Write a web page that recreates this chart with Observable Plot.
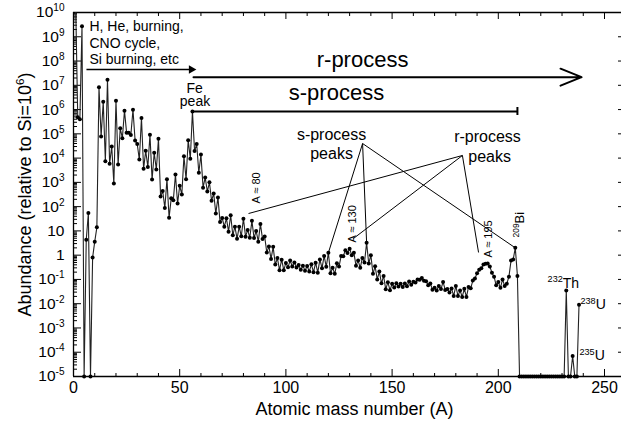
<!DOCTYPE html>
<html>
<head>
<meta charset="utf-8">
<script src="https://cdn.jsdelivr.net/npm/d3@7"></script>
<script src="https://cdn.jsdelivr.net/npm/@observablehq/plot@0.6"></script>
<style>
  html, body { margin: 0; padding: 0; background: #fff; }
  #chart { width: 621px; height: 422px; overflow: hidden; }
</style>
</head>
<body>
<div id="chart"></div>
<script>
// Solar-system abundance (relative to Si = 1e6) for mass numbers A = 1, 2, 3, ... 238
// values at 1e-5 are the plotted "zero" floor
const abundance = [
  2.79e10, 4.8e5, 4.0e5, 2.7e9, 1e-5, 4.3, 55, 1e-5, 0.8, 3.6,          // 1-10
  14, 8.3e6, 7.8e4, 2.1e6, 7.4e3, 1.7e7, 5.9e3, 3.0e4, 890, 2.3e6,      // 11-20
  5.4e3, 1.7e5, 6.6e4, 9.0e5, 1.1e5, 1.1e5, 9.0e4, 9.8e5, 5.3e4, 3.8e4, // 21-30
  8.7e3, 4.5e5, 3.6e3, 2.0e4, 4.3e3, 9.2e4, 1.3e3, 1.66e4, 3.4e3, 6.2e4, // 31-40
  260, 440, 88, 1.33e3, 35, 220, 185, 2.1e3, 135, 720,                  // 41-50
  320, 1.18e4, 1.35e3, 5.4e4, 9.5e3, 8.4e5, 1.95e4, 3.8e4, 2.5e3, 1.4e4, // 51-60
  600, 1.6e3, 420, 1.0e3, 175, 350, 52, 240, 23, 34,                    // 61-70
  15, 33, 9.3, 44, 6.6, 15, 4.7, 15, 6.0, 32,                           // 71-80
  5.8, 11, 5.2, 26, 5.1, 10, 3.6, 19.4, 4.6, 5.9,                       // 81-90
  1.3, 2.3, 0.70, 2.2, 0.41, 0.76, 0.24, 0.65, 0.24, 0.48,              // 91-100
  0.32, 0.60, 0.34, 0.50, 0.31, 0.39, 0.25, 0.37, 0.23, 0.36,           // 101-110
  0.21, 0.42, 0.20, 0.49, 0.19, 0.67, 0.29, 0.93, 0.33, 1.25,           // 111-120
  0.18, 0.30, 0.17, 0.46, 0.34, 0.92, 0.90, 1.61, 1.24, 1.83,           // 121-130
  1.0, 1.27, 0.37, 0.60, 0.30, 0.77, 0.50, 3.22, 0.45, 1.0,             // 131-140
  0.17, 0.35, 0.10, 0.21, 0.069, 0.14, 0.039, 0.077, 0.036, 0.066,      // 141-150
  0.047, 0.070, 0.051, 0.066, 0.049, 0.068, 0.052, 0.082, 0.060, 0.081, // 151-160
  0.074, 0.10, 0.098, 0.115, 0.089, 0.084, 0.058, 0.068, 0.038, 0.045,  // 161-170
  0.035, 0.054, 0.040, 0.079, 0.037, 0.040, 0.029, 0.042, 0.021, 0.054, // 171-180
  0.021, 0.035, 0.019, 0.041, 0.019, 0.049, 0.043, 0.090, 0.11, 0.18,   // 181-190
  0.25, 0.29, 0.41, 0.44, 0.45, 0.34, 0.19, 0.13, 0.057, 0.078,         // 191-200
  0.045, 0.10, 0.054, 0.067, 0.13, 0.6, 0.66, 2.0, 0.14, 1e-5,          // 201-210
  1e-5, 1e-5, 1e-5, 1e-5, 1e-5, 1e-5, 1e-5, 1e-5, 1e-5, 1e-5,           // 211-220
  1e-5, 1e-5, 1e-5, 1e-5, 1e-5, 1e-5, 1e-5, 1e-5, 1e-5, 1e-5,           // 221-230
  1e-5, 0.035, 1e-5, 1e-5, 7e-5, 1e-5, 1e-5, 0.009                      // 231-238
];
const massNumber = abundance.map((_, i) => i + 1);

// axis ticks and labels
const yTickValues = [1e-5, 1e-4, 1e-3, 1e-2, 1e-1, 1, 10, 1e2, 1e3, 1e4, 1e5, 1e6, 1e7, 1e8, 1e9, 1e10];
const yTickLabels = ["10^{-5}", "10^{-4}", "10^{-3}", "10^{-2}", "10^{-1}", "1", "10", "10^{2}", "10^{3}",
                     "10^{4}", "10^{5}", "10^{6}", "10^{7}", "10^{8}", "10^{9}", "10^{10}"];
const yMinorTicks = yTickValues.slice(0, -1).flatMap(d => [2, 3, 4, 5, 6, 7, 8, 9].map(m => m * d));
const xTickValues = [0, 50, 100, 150, 200, 250];
const xTickLabels = ["0", "50", "100", "150", "200", "250"];
const xMinorTicks = [10, 20, 30, 40, 60, 70, 80, 90, 110, 120, 130, 140, 160, 170, 180, 190, 210, 220, 230, 240];

// annotations (data coordinates: A, abundance)
const startTexts = [
  {A: 7.5, v: 1.81e9, text: "H, He, burning,", size: 14},
  {A: 7.5, v: 3.6e8, text: "CNO cycle,", size: 14},
  {A: 7.5, v: 7.2e7, text: "Si burning, etc", size: 14},
  {A: 223.2, v: 0.0465, text: "^{232}Th", size: 14},
  {A: 238.7, v: 0.00577, text: "^{238}U", size: 14},
  {A: 238.2, v: 4.57e-5, text: "^{235}U", size: 14}
];
const middleTexts = [
  {A: 136.1, v: 5.57e7, text: "r-process", size: 22},
  {A: 123.8, v: 2.37e6, text: "s-process", size: 22},
  {A: 57, v: 5.05e6, text: "Fe", size: 14},
  {A: 57.2, v: 1.34e6, text: "peak", size: 14},
  {A: 121.5, v: 5.84e4, text: "s-process", size: 16},
  {A: 121.5, v: 9.6e3, text: "peaks", size: 16},
  {A: 194.9, v: 4.4e4, text: "r-process", size: 16},
  {A: 195.9, v: 7.2e3, text: "peaks", size: 16}
];
const rotatedTexts = [
  {A: 87.8, v: 134.6, text: "A \u2248 80", size: 11},
  {A: 132.8, v: 3.33, text: "A \u2248 130", size: 11},
  {A: 196.8, v: 0.80, text: "A \u2248 195", size: 11},
  {A: 211.9, v: 5.35, text: "^{209}Bi", size: 13}
];
const sPeakLinks = [
  {A1: 136.1, v1: 3.99e4, A2: 120, v2: 1.25},
  {A1: 136.1, v1: 3.99e4, A2: 138, v2: 3.22},
  {A1: 136.1, v1: 3.99e4, A2: 208, v2: 2.0}
];
const rPeakLinks = [
  {A1: 183.1, v1: 1.28e4, A2: 82.4, v2: 52},
  {A1: 183.1, v1: 1.28e4, A2: 131.8, v2: 4.86},
  {A1: 183.1, v1: 1.28e4, A2: 190.7, v2: 1.29}
];
const burnArrow = {A1: 6.1, A2: 55.5, v: 4.5e7};
const rArrow = {A1: 56.5, A2: 239.2, v: 2.16e7};
const sLine = {A1: 56, A2: 209, v: 8.4e5, barLow: 5.7e5, barHigh: 1.22e6};

const series = massNumber.map((A, i) => ({A, v: abundance[i]}));
const FONT = "'Liberation Sans', Arial, Helvetica, sans-serif";

const blank = () => "";
const svg = Plot.plot({
  width: 621,
  height: 422,
  marginLeft: 73,
  marginRight: 0,
  marginTop: 12,
  marginBottom: 46,
  style: {fontFamily: FONT, fontSize: "15px", color: "#000", background: "#fff", overflow: "visible"},
  x: {domain: [0, 258]},
  y: {type: "log", domain: [1e-5, 1e10]},
  marks: [
    // frame (left, top, bottom)
    Plot.ruleX([0], {stroke: "#000", strokeWidth: 1.3}),
    Plot.ruleY([1e-5, 1e10], {stroke: "#000", strokeWidth: 1.3}),
    // inward ticks
    Plot.axisY({ticks: yTickValues, tickSize: -8, tickFormat: blank, label: null, strokeWidth: 1}),
    Plot.axisY({ticks: yMinorTicks, tickSize: -4, tickFormat: blank, label: null, strokeWidth: 1}),
    Plot.axisY({anchor: "right", ticks: yTickValues, tickSize: -4, tickFormat: blank, label: null, strokeWidth: 1}),
    Plot.axisY({ticks: yTickValues, tickSize: 0, tickPadding: 9, label: null, fontSize: 15.5,
                tickFormat: d => yTickLabels[yTickValues.indexOf(d)]}),
    Plot.axisX({ticks: xTickValues, tickSize: -7, tickFormat: blank, label: null, strokeWidth: 1}),
    Plot.axisX({ticks: xMinorTicks, tickSize: -3, tickFormat: blank, label: null, strokeWidth: 1}),
    Plot.axisX({anchor: "top", ticks: xTickValues, tickSize: -6, tickFormat: blank, label: null, strokeWidth: 1}),
    Plot.axisX({anchor: "top", ticks: xMinorTicks, tickSize: -3, tickFormat: blank, label: null, strokeWidth: 1}),
    Plot.axisX({ticks: xTickValues, tickSize: 0, tickPadding: 5, label: null, fontSize: 16,
                tickFormat: d => xTickLabels[xTickValues.indexOf(d)]}),
    // axis titles
    Plot.text(["Atomic mass number (A)"], {frameAnchor: "bottom", dy: 38, dx: 7, fontSize: 18,
                                          lineAnchor: "bottom", textAnchor: "middle"}),
    Plot.text(["Abundance (relative to Si=10^{6})"], {frameAnchor: "left", dx: -48, rotate: -90, fontSize: 18,
                                                     lineAnchor: "middle", textAnchor: "middle"}),
    // data
    Plot.line(series, {x: "A", y: "v", stroke: "#222", strokeWidth: 1.1, clip: true}),
    Plot.dot(series.filter(d => d.v <= 1e10), {x: "A", y: "v", r: 2, fill: "#000", stroke: "none"}),
    // process arrows
    Plot.link([burnArrow], {x1: "A1", x2: "A2", y1: "v", y2: "v", stroke: "#000", strokeWidth: 1.6}),
    Plot.dot([burnArrow], {x: "A2", y: "v", symbol: "triangle", rotate: 90, r: 3.2, fill: "#000", stroke: "none"}),
    Plot.arrow([rArrow], {x1: "A1", x2: "A2", y1: "v", y2: "v", stroke: "#000", strokeWidth: 2, headLength: 17, headAngle: 44}),
    Plot.link([sLine], {x1: "A1", x2: "A2", y1: "v", y2: "v", stroke: "#000", strokeWidth: 2}),
    Plot.ruleX([sLine], {x: "A2", y1: "barLow", y2: "barHigh", stroke: "#000", strokeWidth: 2}),
    // peak pointer lines
    Plot.link(sPeakLinks, {x1: "A1", y1: "v1", x2: "A2", y2: "v2", stroke: "#000", strokeWidth: 1}),
    Plot.link(rPeakLinks, {x1: "A1", y1: "v1", x2: "A2", y2: "v2", stroke: "#000", strokeWidth: 1}),
    // labels
    Plot.text(startTexts, {x: "A", y: "v", text: "text", fontSize: "size", textAnchor: "start",
                           lineAnchor: "bottom", fill: "#000"}),
    Plot.text(middleTexts, {x: "A", y: "v", text: "text", fontSize: "size", textAnchor: "middle",
                            lineAnchor: "bottom", fill: "#000"}),
    Plot.text(rotatedTexts, {x: "A", y: "v", text: "text", fontSize: "size", textAnchor: "start",
                             lineAnchor: "bottom", rotate: -90, fill: "#000"})
  ]
});

document.getElementById("chart").append(svg);

// turn "^{...}" into real superscript tspans
function applySuperscripts(root) {
  root.querySelectorAll("text").forEach(t => {
    const nodes = t.querySelector("tspan") ? Array.from(t.querySelectorAll("tspan")) : [t];
    nodes.forEach(node => {
      const s = node.textContent;
      if (!s.includes("^{")) return;
      const parts = s.split(/(\^\{[^}]*\})/).filter(p => p !== "");
      node.textContent = "";
      let raised = false;
      parts.forEach(p => {
        const ts = document.createElementNS("http://www.w3.org/2000/svg", "tspan");
        if (p.startsWith("^{")) {
          ts.textContent = p.slice(2, -1);
          ts.setAttribute("font-size", "65%");
          ts.setAttribute("dy", raised ? "0" : "-0.6em");
          raised = true;
        } else {
          ts.textContent = p;
          if (raised) ts.setAttribute("dy", "0.39em");
          raised = false;
        }
        node.appendChild(ts);
      });
    });
  });
}
applySuperscripts(svg);
</script>
</body>
</html>
